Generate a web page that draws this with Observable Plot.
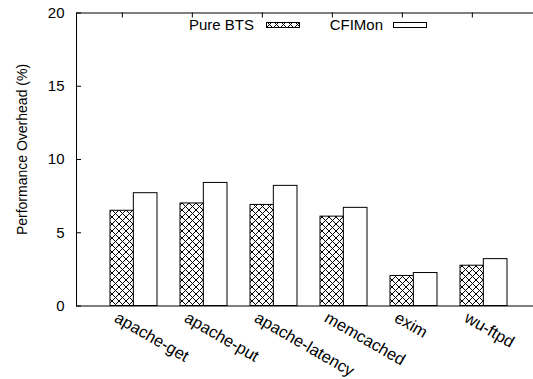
<!DOCTYPE html>
<html><head><meta charset="utf-8">
<script src="https://cdn.jsdelivr.net/npm/d3@7"></script>
<script src="https://cdn.jsdelivr.net/npm/@observablehq/plot@0.6"></script>
<style>
body{margin:0;background:#fff;}
#wrap{position:relative;width:533px;height:379px;font-family:"Liberation Sans",Arial,sans-serif;overflow:hidden;}
#legend{position:absolute;left:0;top:0;}
</style></head><body><div id="wrap"></div>
<script>
const categories = ["apache-get","apache-put","apache-latency","memcached","exim","wu-ftpd"];
const seriesNames = ["Pure BTS","CFIMon"];
const pureBTS = [6.5, 7.0, 6.9, 6.1, 2.05, 2.75];
const cfimon = [7.7, 8.4, 8.2, 6.7, 2.25, 3.2];
const yTicks = [0, 5, 10, 15, 20];
const yLabel = "Performance Overhead (%)";

const W = 533, H = 379, mL = 76, mR = -2, mT = 12.5, mB = 73.5;
const plotW = W - mL - mR, plotH = H - mT - mB;
const padIn = 1/3, padOut = 0.445, align = 0.552;
const step = plotW / (categories.length - padIn + 2 * padOut);
const half = step * (1 - padIn) / 2;

const rows = categories.map((c, i) => ({category: c, pure: pureBTS[i], cfi: cfimon[i]}));

const chart = Plot.plot({
  width: W, height: H,
  marginLeft: mL, marginRight: mR, marginTop: mT, marginBottom: mB,
  style: {fontFamily: '"Liberation Sans", Arial, sans-serif', fontSize: "15px", background: "white", color: "black"},
  x: {type: "band", domain: categories, paddingInner: padIn, paddingOuter: padOut, align: align, axis: null},
  y: {domain: [0, 20], axis: null},
  marks: [
    Plot.barY(rows, {x: "category", y: "pure", fill: "url(#xhatch)", stroke: "black", strokeWidth: 1, insetRight: half}),
    Plot.barY(rows, {x: "category", y: "cfi", fill: "white", stroke: "black", strokeWidth: 1, insetLeft: half}),
    Plot.frame({stroke: "black", strokeWidth: 1}),
    Plot.tickY(yTicks, {y: d => d, insetRight: plotW - 5, stroke: "black"}),
    Plot.tickX(categories, {x: d => d, dx: -half / 2, insetBottom: plotH - 5, stroke: "black"}),
    Plot.axisY({ticks: yTicks, tickSize: 0, tickPadding: 12, fontSize: 15, label: null}),
    Plot.text(categories, {x: d => d, text: d => d, frameAnchor: "bottom", rotate: 30, textAnchor: "start", lineAnchor: "bottom", dx: -half / 2 - 9, dy: 15, fontSize: 16.5, fill: "black"}),
    Plot.text([yLabel], {text: d => d, frameAnchor: "left", rotate: -90, dx: -54, dy: -10, fontSize: 14, textAnchor: "middle", lineAnchor: "middle", fill: "black"})
  ]
});

const ns = "http://www.w3.org/2000/svg";
const defs = document.createElementNS(ns, "defs");
defs.innerHTML = '<pattern id="xhatch" patternUnits="userSpaceOnUse" width="7" height="7">' +
  '<rect width="7" height="7" fill="white"/>' +
  '<path d="M-1,1L1,-1M0,7L7,0M6,8L8,6M-1,6L1,8M0,0L7,7M6,-1L8,1" stroke="black" stroke-width="1"/></pattern>';
chart.insertBefore(defs, chart.firstChild);

const wrap = document.getElementById("wrap");
wrap.appendChild(chart);

// legend (inside the frame, top)
const legendItems = [
  {name: seriesNames[0], textEnd: 254, sx: 266, fill: "url(#xhatch)"},
  {name: seriesNames[1], textEnd: 383, sx: 393, fill: "white"}
];
const leg = d3.select(wrap).append("svg").attr("id", "legend").attr("width", W).attr("height", 40)
  .style("font-family", '"Liberation Sans", Arial, sans-serif');
for (const it of legendItems) {
  leg.append("text").attr("x", it.textEnd).attr("y", 25).attr("dy", "0.35em")
    .attr("text-anchor", "end").attr("font-size", 15).attr("fill", "black").text(it.name);
  leg.append("rect").attr("x", it.sx + 0.5).attr("y", 22.5).attr("width", 33).attr("height", 5)
    .attr("fill", it.fill).attr("stroke", "black").attr("stroke-width", 1);
}
</script></body></html>
